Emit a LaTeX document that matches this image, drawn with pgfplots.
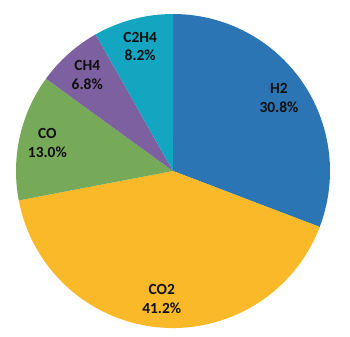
\documentclass[border=0pt]{standalone}
\usepackage{pgfplots}
\usepackage{pgfplotstable}
\pgfplotsset{compat=1.18}
\usepackage{fontspec}
\setmainfont{Carlito}
\definecolor{cH2}{RGB}{44,117,180}
\definecolor{cCO2}{RGB}{250,185,40}
\definecolor{cCO}{RGB}{118,170,88}
\definecolor{cCH4}{RGB}{125,96,160}
\definecolor{cC2H4}{RGB}{20,166,193}
\definecolor{lbl}{RGB}{15,15,15}
\pgfplotstableread{
name value color
H2 30.8 cH2
CO2 41.2 cCO2
CO 13.0 cCO
CH4 6.8 cCH4
C2H4 8.2 cC2H4
}\piedata
\begin{document}
\begin{tikzpicture}
\begin{axis}[
  hide axis, scale only axis,
  width=350bp, height=337bp,
  xmin=-1.1019, xmax=1.1274,
  ymin=-1.0573, ymax=1.0892,
]
\pgfplotsextra{
  \path (rel axis cs:0,0) rectangle (rel axis cs:1,1);
  \pgfplotstablegetrowsof{\piedata}
  \pgfmathtruncatemacro\N{\pgfplotsretval-1}
  \gdef\cum{0}
  \foreach \i in {0,...,\N}{
    \pgfplotstablegetelem{\i}{value}\of\piedata \let\v\pgfplotsretval
    \pgfplotstablegetelem{\i}{name}\of\piedata \let\nm\pgfplotsretval
    \pgfplotstablegetelem{\i}{color}\of\piedata \let\cl\pgfplotsretval
    \pgfmathsetmacro\a{90-3.6*\cum}
    \pgfmathsetmacro\b{90-3.6*(\cum+\v)}
    \pgfmathsetmacro\m{(\a+\b)/2}
    \fill[color=\cl] (axis cs:0,0) -- (axis cs:{cos(\a)},{sin(\a)}) arc[start angle=\a,end angle=\b,radius=157bp] -- cycle;
    \node[align=center, text=lbl, font=\fontsize{15.5}{19}\selectfont\bfseries] at (axis cs:{0.82*cos(\m)},{0.82*sin(\m)}) {\nm\\\pgfmathprintnumber[fixed,precision=1,fixed zerofill,assume math mode=true]{\v}\%};
    \pgfmathsetmacro\c{\cum+\v}
    \xdef\cum{\c}
  }
}
\end{axis}
\end{tikzpicture}
\end{document}
